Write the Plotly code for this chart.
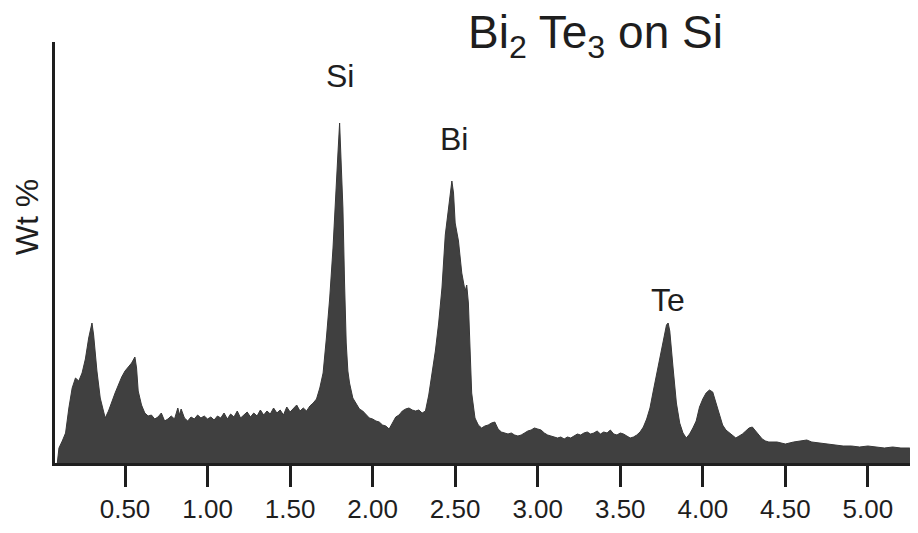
import plotly.graph_objects as go

energy = [0.09, 0.10, 0.12, 0.14, 0.16, 0.18, 0.20, 0.22, 0.24, 0.26, 0.28, 0.30, 0.31, 0.33, 0.35, 0.37, 0.38,
          0.40, 0.42, 0.44, 0.46, 0.48, 0.50, 0.52, 0.54, 0.56, 0.57, 0.58, 0.60, 0.62, 0.64, 0.66, 0.68, 0.70,
          0.72, 0.74, 0.76, 0.78, 0.80, 0.82, 0.83, 0.84, 0.86, 0.88, 0.90, 0.92, 0.94, 0.96, 0.98, 1.00, 1.02,
          1.04, 1.06, 1.08, 1.10, 1.12, 1.14, 1.16, 1.18, 1.20, 1.22, 1.24, 1.26, 1.28, 1.30, 1.32, 1.34, 1.36,
          1.38, 1.40, 1.42, 1.44, 1.46, 1.48, 1.50, 1.52, 1.54, 1.56, 1.58, 1.60, 1.62, 1.64, 1.66, 1.68, 1.70,
          1.72, 1.74, 1.76, 1.78, 1.79, 1.80, 1.81, 1.82, 1.83, 1.84, 1.85, 1.86, 1.88, 1.90, 1.92, 1.94, 1.96,
          1.98, 2.00, 2.02, 2.04, 2.06, 2.08, 2.10, 2.12, 2.14, 2.16, 2.18, 2.20, 2.22, 2.24, 2.26, 2.28, 2.30,
          2.32, 2.34, 2.36, 2.38, 2.40, 2.42, 2.44, 2.46, 2.48, 2.49, 2.50, 2.52, 2.54, 2.56, 2.57, 2.58, 2.59,
          2.60, 2.62, 2.64, 2.66, 2.68, 2.70, 2.72, 2.74, 2.76, 2.78, 2.80, 2.82, 2.84, 2.86, 2.88, 2.90, 2.92,
          2.94, 2.96, 2.98, 3.00, 3.02, 3.04, 3.06, 3.08, 3.10, 3.12, 3.14, 3.16, 3.18, 3.20, 3.22, 3.24, 3.26,
          3.28, 3.30, 3.32, 3.34, 3.36, 3.38, 3.40, 3.42, 3.44, 3.46, 3.48, 3.50, 3.52, 3.54, 3.56, 3.58, 3.60,
          3.62, 3.64, 3.66, 3.68, 3.70, 3.72, 3.74, 3.76, 3.78, 3.79, 3.80, 3.82, 3.84, 3.86, 3.88, 3.90, 3.92,
          3.94, 3.96, 3.98, 4.00, 4.02, 4.04, 4.06, 4.08, 4.10, 4.12, 4.14, 4.16, 4.18, 4.20, 4.22, 4.24, 4.26,
          4.28, 4.30, 4.32, 4.34, 4.36, 4.38, 4.40, 4.45, 4.50, 4.55, 4.60, 4.63, 4.66, 4.70, 4.75, 4.80, 4.85,
          4.90, 4.95, 5.00, 5.05, 5.10, 5.15, 5.20, 5.25, 5.28, 5.31, 5.34]

counts = [0, 15, 22, 30, 55, 75, 85, 82, 90, 104, 125, 140, 128, 92, 65, 50, 45,
          52, 62, 70, 78, 86, 92, 96, 100, 106, 95, 72, 58, 50, 47, 48, 44, 46,
          50, 42, 44, 47, 44, 55, 48, 54, 45, 42, 46, 44, 48, 45, 47, 44, 46,
          43, 47, 45, 50, 44, 49, 46, 52, 45, 48, 51, 46, 50, 47, 53, 48, 52,
          49, 55, 50, 53, 48, 56, 51, 54, 58, 52, 55, 52, 57, 60, 64, 75, 90,
          125, 165, 215, 270, 310, 340, 305, 255, 180, 120, 92, 80, 65, 60, 54, 52, 48,
          45, 44, 42, 41, 38, 37, 34, 40, 46, 48, 52, 54, 55, 53, 52, 53, 50,
          52, 68, 90, 112, 140, 175, 228, 255, 282, 270, 240, 222, 190, 172, 178, 160, 115,
          70, 45, 38, 35, 37, 38, 40, 41, 34, 31, 30, 29, 30, 28, 27, 28, 30,
          32, 33, 35, 34, 33, 30, 28, 27, 26, 25, 26, 24, 26, 25, 27, 29, 28,
          30, 31, 29, 30, 32, 29, 31, 30, 33, 29, 28, 30, 29, 27, 25, 26, 28,
          31, 36, 44, 55, 72, 88, 105, 122, 138, 140, 132, 95, 60, 40, 30, 25, 29,
          35, 42, 56, 64, 70, 73, 71, 60, 48, 38, 33, 30, 27, 25, 27, 29, 32,
          35, 36, 32, 27, 24, 22, 21, 21, 19, 21, 22, 23, 21, 20, 19, 18, 17,
          17, 16, 17, 16, 15, 16, 15, 15, 14, 15, 14]

tick_vals = [0.5, 1.0, 1.5, 2.0, 2.5, 3.0, 3.5, 4.0, 4.5, 5.0]
tick_text = ["0.50", "1.00", "1.50", "2.00", "2.50", "3.00", "3.50", "4.00", "4.50", "5.00"]

peak_labels = ["Si", "Bi", "Te"]
peak_x = [1.80, 2.49, 3.79]
peak_label_y = [387, 324, 163]

FONT = "Liberation Sans, Arial, Helvetica, sans-serif"
INK = "#1e1e1e"

fig = go.Figure()
fig.add_trace(go.Scatter(
    x=energy, y=counts, mode="lines", fill="tozeroy",
    line=dict(color="#383838", width=1), fillcolor="#404040",
    hoverinfo="skip", showlegend=False,
))

for lab, px, py in zip(peak_labels, peak_x, peak_label_y):
    fig.add_annotation(x=px, y=py, text=lab, showarrow=False, xanchor="center", yanchor="middle",
                       font=dict(family=FONT, size=32, color=INK))

fig.add_annotation(xref="paper", yref="paper", x=0.621, y=1.016,
                   text="Bi<sub>2</sub> Te<sub>3</sub> on Si", showarrow=False,
                   xanchor="center", yanchor="middle",
                   font=dict(family=FONT, size=46, color=INK))

fig.add_annotation(xref="paper", yref="paper", x=-0.032, y=0.584, text="Wt %",
                   textangle=-90, showarrow=False, xanchor="center", yanchor="middle",
                   font=dict(family=FONT, size=32, color=INK))

fig.update_layout(
    width=918, height=533,
    margin=dict(l=47, r=0, t=34, b=78, autoexpand=False),
    paper_bgcolor="white", plot_bgcolor="white",
    font=dict(family=FONT, color=INK),
    xaxis=dict(range=[0.076, 5.352], tickvals=tick_vals, ticktext=tick_text,
               ticks="outside", ticklen=21, tickwidth=3, tickcolor=INK,
               tickfont=dict(size=26, color=INK), showline=True, linewidth=3, linecolor=INK,
               showgrid=False, zeroline=False, automargin=False),
    yaxis=dict(range=[0, 421], showticklabels=False, ticks="", showline=True,
               linewidth=3, linecolor=INK, showgrid=False, zeroline=False, automargin=False),
)

fig.write_html("out.html")
